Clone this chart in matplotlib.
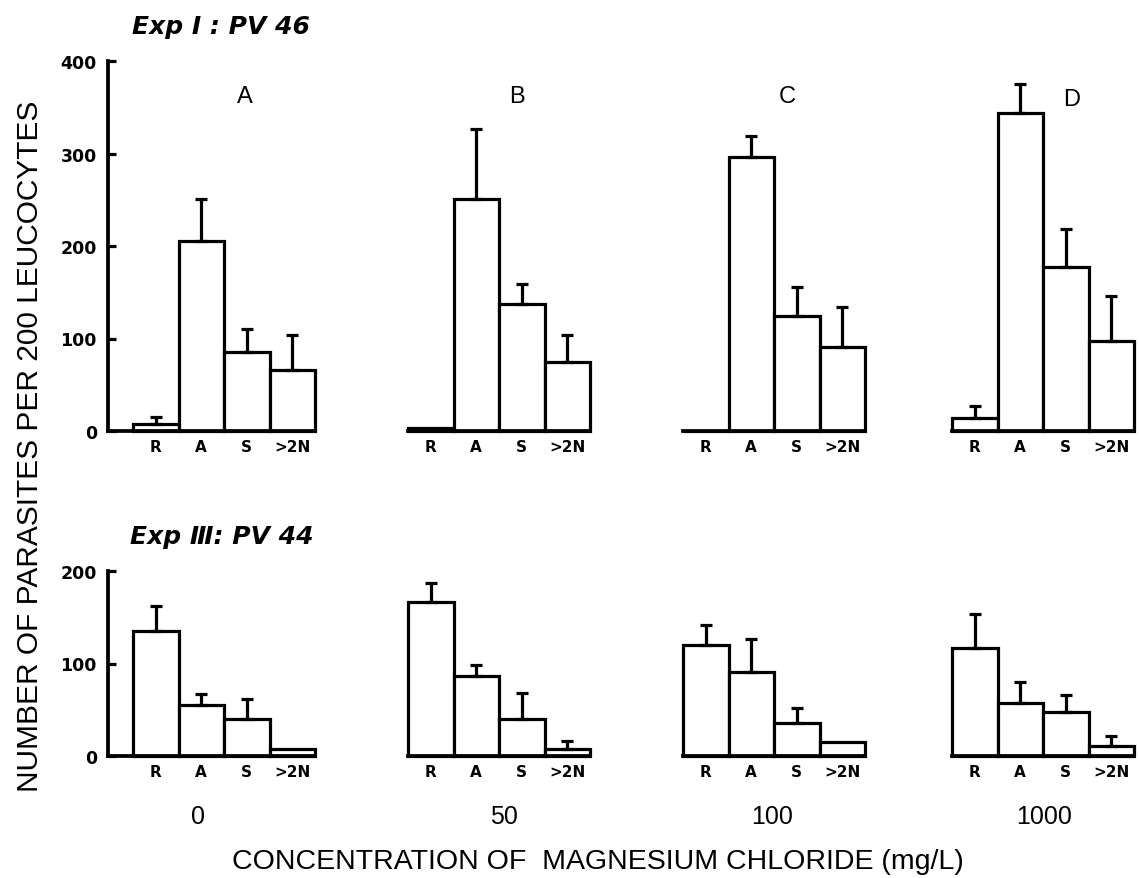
import numpy as np
from matplotlib import pyplot as plt

# categories and concentrations
cats = ["R", "A", "S", ">2N"]
conc = ["0", "50", "100", "1000"]
panels = ["A", "B", "C", "D"]

# Exp I : PV 46 (means and upper error), one list per concentration
exp1_0 = [8, 205, 85, 66]
exp1_0_err = [7, 46, 25, 38]
exp1_50 = [3, 251, 137, 75]
exp1_50_err = [0, 76, 22, 29]
exp1_100 = [0, 296, 124, 91]
exp1_100_err = [0, 23, 32, 43]
exp1_1000 = [14, 344, 177, 97]
exp1_1000_err = [13, 31, 41, 49]

# Exp III : PV 44
exp3_0 = [135, 55, 40, 8]
exp3_0_err = [27, 12, 22, 0]
exp3_50 = [167, 87, 40, 8]
exp3_50_err = [20, 11, 28, 8]
exp3_100 = [120, 91, 36, 15]
exp3_100_err = [22, 36, 16, 0]
exp3_1000 = [117, 57, 48, 11]
exp3_1000_err = [36, 23, 18, 11]

W, H = 1139, 879
fig = plt.figure(figsize=(W / 100, H / 100), dpi=100)
plt.rcParams['font.family'] = ['Liberation Sans', 'DejaVu Sans']

lw = 2.3
bar_px = 45.5
starts = [133, 408, 683, 952]
yaxis_px = 108


def draw_row(means, errs, y0, ytop, ymax, yticks):
    for i in range(4):
        left = yaxis_px if i == 0 else starts[i]
        right = starts[i] + 4 * bar_px
        ax = fig.add_axes([left / W, 1 - y0 / H, (right - left) / W, (y0 - ytop) / H])
        ax.patch.set_alpha(0)
        x = np.arange(4)
        ax.bar(x, means[i], width=1, color="white", edgecolor="black", linewidth=lw,
               zorder=2, clip_on=False)
        m = np.array(means[i], dtype=float)
        e = np.array(errs[i], dtype=float)
        keep = e > 0
        ax.errorbar(x[keep], m[keep], yerr=[np.zeros(keep.sum()), e[keep]], fmt="none",
                    ecolor="black", elinewidth=lw, capsize=4.5, capthick=lw, zorder=3)
        ax.set_ylim(0, ymax)
        if i == 0:
            ax.set_xlim(-0.5 - (starts[0] - yaxis_px) / bar_px, 3.5)
        else:
            ax.set_xlim(-0.5, 3.5)
        for s in ["top", "right"]:
            ax.spines[s].set_visible(False)
        ax.spines["bottom"].set_linewidth(lw + 0.4)
        ax.set_xticks(x)
        ax.set_xticklabels(cats, fontsize=11, fontweight="bold", family="DejaVu Sans")
        ax.tick_params(axis="x", length=0, pad=6)
        if i == 0:
            ax.spines["left"].set_linewidth(lw + 0.4)
            ax.set_yticks(yticks)
            ax.set_yticklabels([str(t) for t in yticks], fontsize=12.5, fontweight="bold",
                               family="DejaVu Sans")
            ax.tick_params(axis="y", direction="in", length=6, width=lw, pad=8)
        else:
            ax.spines["left"].set_visible(False)
            ax.set_yticks([])


draw_row([exp1_0, exp1_50, exp1_100, exp1_1000],
         [exp1_0_err, exp1_50_err, exp1_100_err, exp1_1000_err],
         432, 62, 400, [0, 100, 200, 300, 400])
draw_row([exp3_0, exp3_50, exp3_100, exp3_1000],
         [exp3_0_err, exp3_50_err, exp3_100_err, exp3_1000_err],
         757, 572, 200, [0, 100, 200])


def ftext(x, y, s, **kw):
    fig.text(x / W, 1 - y / H, s, **kw)


# panel letters
for name, (px, py) in zip(panels, [(245, 97), (517, 97), (787, 97), (1072, 100)]):
    ftext(px, py, name, fontsize=17, ha="center", va="center")

# experiment titles
ftext(132, 27, "Exp I : PV 46", fontsize=18, fontweight="bold", style="italic",
      family="DejaVu Sans", ha="left", va="center")
ftext(130, 537, "Exp \u2162: PV 44", fontsize=18, fontweight="bold", style="italic",
      family="DejaVu Sans", ha="left", va="center")

# concentration values
for c, px in zip(conc, [198, 504, 772, 1044]):
    ftext(px, 817, c, fontsize=18, ha="center", va="center")

ftext(598, 862, "CONCENTRATION OF  MAGNESIUM CHLORIDE (mg/L)", fontsize=20.5,
      ha="center", va="center")
ftext(30, 446, "NUMBER OF PARASITES PER 200 LEUCOCYTES", fontsize=21.5,
      rotation=90, ha="center", va="center")

plt.savefig("out.png", dpi=100)
